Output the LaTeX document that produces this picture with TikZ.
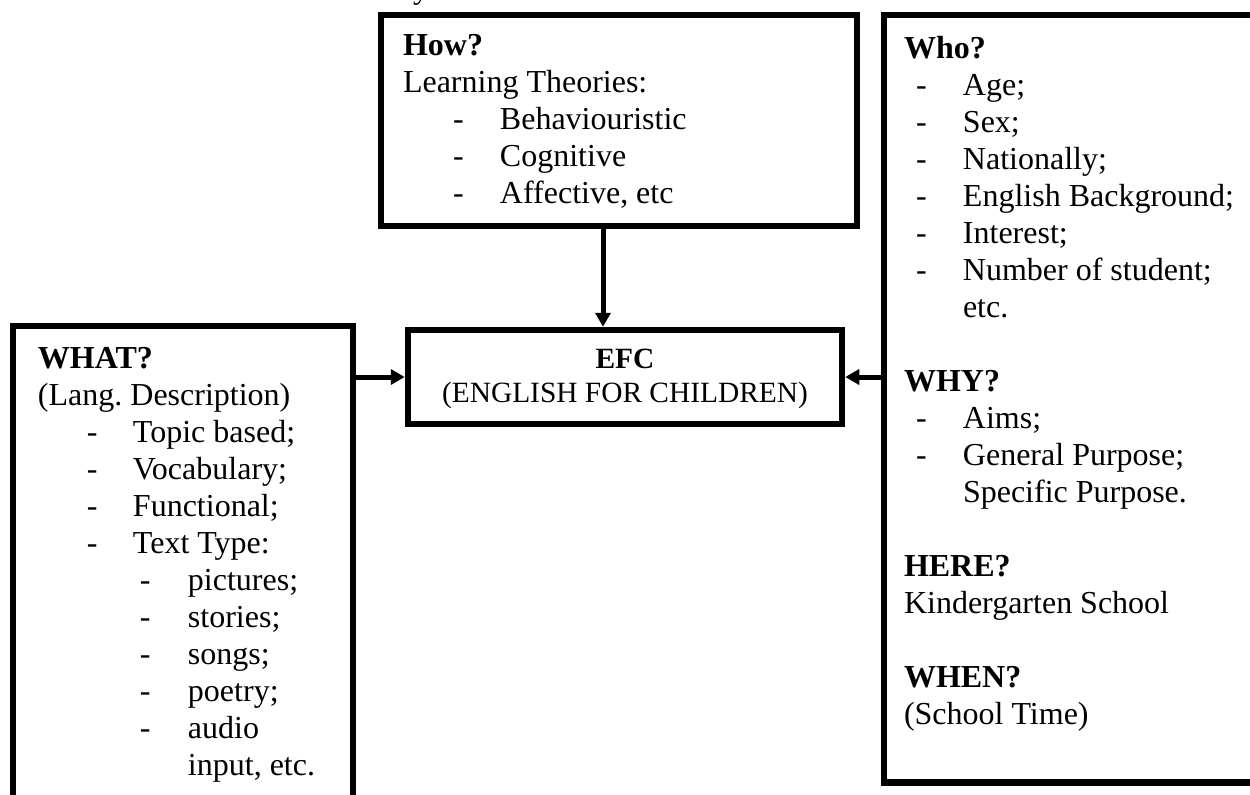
\documentclass[tikz,border=0pt]{standalone}
\usepackage{fontspec}
\setmainfont{Liberation Serif}
\usetikzlibrary{arrows.meta}
\frenchspacing
\newcommand{\dl}[3]{\hspace*{#1}\makebox[\dimexpr#2-#1\relax][l]{-}#3}
\begin{document}
\begin{tikzpicture}[x=0.5pt,y=-0.5pt,
  box/.style={draw=black, line width=3.25pt, inner sep=0pt},
  txt/.style={inner sep=0pt, outer sep=0pt, align=left, anchor=north west,
    font=\fontsize{16}{18.5}\selectfont},
  arr/.style={line width=2.5pt, -{Triangle[length=7pt,width=7.5pt]}}]
\useasboundingbox (0,0) rectangle (1250,794);
% boxes
\node[box, minimum width=238pt, minimum height=105.5pt] (how) at (619,120.5) {};
\node[box, minimum width=193pt, minimum height=383.75pt] (who) at (1077,398.75) {};
\node[box, minimum width=217pt, minimum height=47pt] (efc) at (625,377) {};
\node[box, minimum width=170pt, minimum height=252pt] (what) at (183,578) {};
% connectors
\coordinate (vx) at (603,0);
\draw[arr] (vx |- how.south) -- (vx |- efc.north);
\draw[arr] (what.east |- efc.west) -- (efc.west);
\draw[arr] (who.west |- efc.east) -- (efc.east);
% texts
\begin{scope}
\clip (0,0) rectangle (1250,794);
\node[txt, anchor=base west] (yfrag) at (413,-2) {y};
\end{scope}
\node[txt] (howt) at (403,30) {\strut\textbf{How?}\\
Learning Theories:\\
\dl{25pt}{48.5pt}{Behaviouristic}\\
\dl{25pt}{48.5pt}{Cognitive}\\
\dl{25pt}{48.5pt}{Affective, etc}};
\node[txt] (whot) at (904,33) {\strut\textbf{Who?}\\
\dl{6pt}{29.5pt}{Age;}\\
\dl{6pt}{29.5pt}{Sex;}\\
\dl{6pt}{29.5pt}{Nationally;}\\
\dl{6pt}{29.5pt}{English Background;}\\
\dl{6pt}{29.5pt}{Interest;}\\
\dl{6pt}{29.5pt}{Number of student;}\\
\hspace*{29.5pt}etc.\\
\strut\\
\textbf{WHY?}\\
\dl{6pt}{29.5pt}{Aims;}\\
\dl{6pt}{29.5pt}{General Purpose;}\\
\hspace*{29.5pt}Specific Purpose.\\
\strut\\
\textbf{HERE?}\\
Kindergarten School\\
\strut\\
\textbf{WHEN?}\\
(School Time)};
\node[txt] (whatt) at (38,343) {\strut\textbf{WHAT?}\\
(Lang. Description)\\
\dl{24.5pt}{47.5pt}{Topic based;}\\
\dl{24.5pt}{47.5pt}{Vocabulary;}\\
\dl{24.5pt}{47.5pt}{Functional;}\\
\dl{24.5pt}{47.5pt}{Text Type:}\\
\dl{51pt}{75pt}{pictures;}\\
\dl{51pt}{75pt}{stories;}\\
\dl{51pt}{75pt}{songs;}\\
\dl{51pt}{75pt}{poetry;}\\
\dl{51pt}{75pt}{audio}\\
\hspace*{75pt}input, etc.};
\node[txt, anchor=center, align=center, font=\fontsize{14.7}{17}\selectfont] (efct) at (625,379) {\textbf{EFC}\\(ENGLISH FOR CHILDREN)};
\end{tikzpicture}
\end{document}
